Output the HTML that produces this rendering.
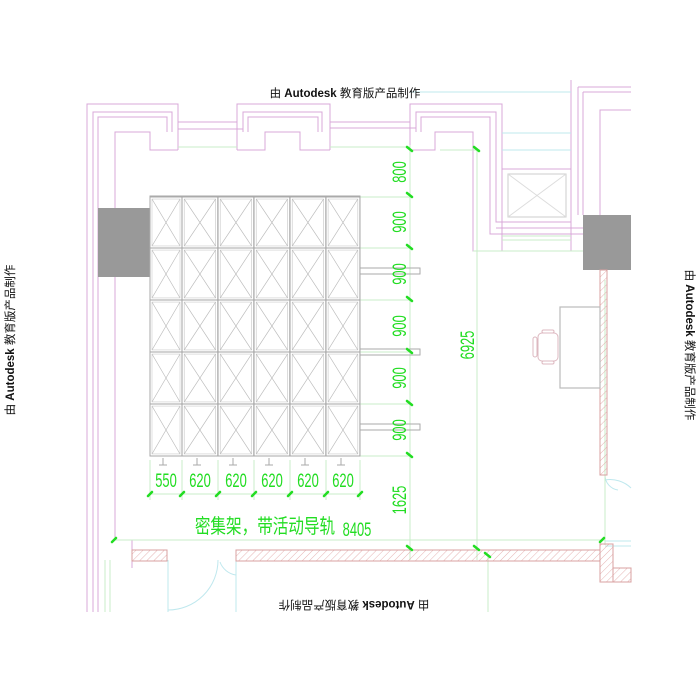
<!DOCTYPE html>
<html><head><meta charset="utf-8"><style>
html,body{margin:0;padding:0;background:#fff;}
svg{display:block;}
.t{font-family:"Liberation Sans","Noto Sans CJK SC",sans-serif;font-size:11.5px;fill:#111;}
.d{font-family:"Liberation Sans","Noto Sans CJK SC",sans-serif;font-size:19px;fill:#22dd22;}
</style></head><body>
<svg width="700" height="700" viewBox="0 0 700 700" xmlns="http://www.w3.org/2000/svg">
<defs>
<pattern id="h" width="5" height="5" patternUnits="userSpaceOnUse" patternTransform="rotate(45)">
<line x1="0" y1="0" x2="0" y2="5" stroke="#e0a0a0" stroke-width="0.8"/>
</pattern>
<g id="cell"><rect x="0" y="0" width="32" height="50" fill="none" stroke="#aaa" stroke-width="1"/>
<rect x="2" y="2" width="28" height="46" fill="none" stroke="#ccc" stroke-width="0.6"/>
<line x1="2" y1="2" x2="30" y2="48" stroke="#bbb" stroke-width="0.6"/><line x1="30" y1="2" x2="2" y2="48" stroke="#bbb" stroke-width="0.6"/></g>
</defs>
<rect width="700" height="700" fill="#fff"/>

<g fill="none" stroke="#d8a8d8" stroke-width="1">
<path d="M87 560 V104 H178 V150 M237 150 V104 H330 V150 M410 150 V104 H502 V251"/>
<path d="M93 560 V112 H172 V132 M243 132 V112 H322 V132 M416 132 V112 H496 V222 H571"/>
<path d="M98 560 V117 H167 V132 M248 132 V117 H318 V132 M421 132 V117 H490 V234 H583"/>
<path d="M115 540 V132 H150 V150 H178 M237 150 H265 V132 H300 V150 H330 M410 150 H435 V132 H473 V251 H583"/>
<path d="M178 122 H237 M178 129 H243 M330 122 H410 M330 128 H416"/>
<path d="M115 540 H132 V568 M87 560 V612 M93 560 V612 M98 560 V612"/>
<path d="M502 169 H571 M496 228 H583"/>
<path d="M571 80 V251 M578 87 V215 M583 92 V215 M578 87 H631 M583 92 H631 M600 215 V110 H631"/>
</g>
<g fill="none" stroke="#bfe8ee" stroke-width="1">
<path d="M410 92 H571 M502 133 H571 M502 150 H571"/>
<path d="M168 560 V612 M236 560 V612 M168 610 A50 50 0 0 0 218 560 M220 562 A20 20 0 0 0 236 575 V562"/>
<path d="M605 475 V545 M605 475 A15 15 0 0 0 618 490 M605 480 A30 30 0 0 1 631 488 M605 541 H631 M605 546 H631"/>
</g>
<g fill="none" stroke="#c8ecc8" stroke-width="1">
<path d="M178 147 H237 M330 147 H410 M440 150 H480 M502 236 H571 M502 240 H571 M473 251 H583"/>
<path d="M115 540 H605 M410 145 V560 M477 150 V560 M488 556 V612 M605 280 V545"/>
<path d="M360 197 H410 M360 248 H410 M360 300 H410 M360 352 H410 M360 404 H410 M360 456 H410"/>
<path d="M150 460 V500 M182 460 V500 M218 460 V500 M254 460 V500 M290 460 V500 M326 460 V500 M360 460 V500 M150 494 H360"/>
<path d="M105 560 V612 M110 560 V612"/>
</g>

<rect x="98" y="208" width="52" height="69" fill="#999"/>
<rect x="583" y="215" width="48" height="55" fill="#999"/>

<g stroke="#d8a0a0" stroke-width="1" fill="url(#h)">
<rect x="132" y="550" width="35" height="11"/>
<rect x="236" y="550" width="364" height="11"/>
<rect x="600" y="270" width="7" height="205"/>
<rect x="600" y="544" width="13" height="38"/>
<rect x="613" y="568" width="18" height="14"/>
</g>

<rect x="508" y="174" width="58" height="43" fill="none" stroke="#ccc"/>
<line x1="508" y1="174" x2="566" y2="217" stroke="#ddd"/><line x1="566" y1="174" x2="508" y2="217" stroke="#ddd"/>

<rect x="560" y="307" width="40" height="81" fill="none" stroke="#bbb" stroke-width="1.2"/>
<g fill="none" stroke="#ddb8c0" stroke-width="1">
<rect x="538" y="333" width="20" height="28" rx="4"/>
<rect x="533" y="337" width="4" height="20" rx="2"/>
<rect x="542" y="330" width="12" height="3" rx="1.5"/><rect x="542" y="361" width="12" height="3" rx="1.5"/>
</g>

<rect x="150" y="196" width="210" height="260" fill="none" stroke="#aaa"/>
<g>
<g transform="translate(150,197) scale(1,1.02)"><use href="#cell"/></g>
<g transform="translate(182,197) scale(1.12,1.02)"><use href="#cell"/></g>
<g transform="translate(218,197) scale(1.12,1.02)"><use href="#cell"/></g>
<g transform="translate(254,197) scale(1.12,1.02)"><use href="#cell"/></g>
<g transform="translate(290,197) scale(1.12,1.02)"><use href="#cell"/></g>
<g transform="translate(326,197) scale(1.06,1.02)"><use href="#cell"/></g>
<g transform="translate(150,248) scale(1,1.04)"><use href="#cell"/></g>
<g transform="translate(182,248) scale(1.12,1.04)"><use href="#cell"/></g>
<g transform="translate(218,248) scale(1.12,1.04)"><use href="#cell"/></g>
<g transform="translate(254,248) scale(1.12,1.04)"><use href="#cell"/></g>
<g transform="translate(290,248) scale(1.12,1.04)"><use href="#cell"/></g>
<g transform="translate(326,248) scale(1.06,1.04)"><use href="#cell"/></g>
<g transform="translate(150,300) scale(1,1.04)"><use href="#cell"/></g>
<g transform="translate(182,300) scale(1.12,1.04)"><use href="#cell"/></g>
<g transform="translate(218,300) scale(1.12,1.04)"><use href="#cell"/></g>
<g transform="translate(254,300) scale(1.12,1.04)"><use href="#cell"/></g>
<g transform="translate(290,300) scale(1.12,1.04)"><use href="#cell"/></g>
<g transform="translate(326,300) scale(1.06,1.04)"><use href="#cell"/></g>
<g transform="translate(150,352) scale(1,1.04)"><use href="#cell"/></g>
<g transform="translate(182,352) scale(1.12,1.04)"><use href="#cell"/></g>
<g transform="translate(218,352) scale(1.12,1.04)"><use href="#cell"/></g>
<g transform="translate(254,352) scale(1.12,1.04)"><use href="#cell"/></g>
<g transform="translate(290,352) scale(1.12,1.04)"><use href="#cell"/></g>
<g transform="translate(326,352) scale(1.06,1.04)"><use href="#cell"/></g>
<g transform="translate(150,404) scale(1,1.04)"><use href="#cell"/></g>
<g transform="translate(182,404) scale(1.12,1.04)"><use href="#cell"/></g>
<g transform="translate(218,404) scale(1.12,1.04)"><use href="#cell"/></g>
<g transform="translate(254,404) scale(1.12,1.04)"><use href="#cell"/></g>
<g transform="translate(290,404) scale(1.12,1.04)"><use href="#cell"/></g>
<g transform="translate(326,404) scale(1.06,1.04)"><use href="#cell"/></g>
</g>
<g fill="none" stroke="#aaa">
<rect x="360" y="268" width="60" height="6"/>
<rect x="360" y="349" width="60" height="6"/>
<rect x="360" y="424" width="60" height="6"/>
<path d="M163 458 V465 M159 465 H167 M197 458 V465 M193 465 H201 M233 458 V465 M229 465 H237 M269 458 V465 M265 465 H273 M305 458 V465 M301 465 H309 M341 458 V465 M337 465 H345"/>
</g>

<g stroke="#22dd22" stroke-width="2.5" stroke-linecap="round">
<path d="M407 147 l5 4 M407 193 l5 4 M407 245 l5 4 M407 297 l5 4 M407 349 l5 4 M407 401 l5 4 M407 453 l5 4 M407 546 l5 4"/>
<path d="M474 147 l5 4 M474 546 l5 4 M485 553 l5 4"/>
<path d="M112 542 l4 -4 M600 542 l4 -4"/>
<path d="M148 496 l4 -4 M180 496 l4 -4 M216 496 l4 -4 M252 496 l4 -4 M288 496 l4 -4 M324 496 l4 -4 M358 496 l4 -4"/>
</g>

<g class="d">
<text transform="translate(406,172) rotate(-90) scale(0.68,1)" text-anchor="middle">800</text>
<text transform="translate(406,222) rotate(-90) scale(0.68,1)" text-anchor="middle">900</text>
<text transform="translate(406,274) rotate(-90) scale(0.68,1)" text-anchor="middle">900</text>
<text transform="translate(406,326) rotate(-90) scale(0.68,1)" text-anchor="middle">900</text>
<text transform="translate(406,378) rotate(-90) scale(0.68,1)" text-anchor="middle">900</text>
<text transform="translate(406,430) rotate(-90) scale(0.68,1)" text-anchor="middle">900</text>
<text transform="translate(406,500) rotate(-90) scale(0.68,1)" text-anchor="middle">1625</text>
<text transform="translate(474,345) rotate(-90) scale(0.68,1)" text-anchor="middle">6925</text>
<text transform="translate(166,487) scale(0.68,1)" text-anchor="middle">550</text>
<text transform="translate(200,487) scale(0.68,1)" text-anchor="middle">620</text>
<text transform="translate(236,487) scale(0.68,1)" text-anchor="middle">620</text>
<text transform="translate(272,487) scale(0.68,1)" text-anchor="middle">620</text>
<text transform="translate(308,487) scale(0.68,1)" text-anchor="middle">620</text>
<text transform="translate(343,487) scale(0.68,1)" text-anchor="middle">620</text>
<text transform="translate(357,536) scale(0.68,1)" text-anchor="middle">8405</text>
<text transform="translate(265,533) scale(0.78,1)" text-anchor="middle" style="font-size:20px">密集架，带活动导轨</text>
</g>

<text class="t" x="345" y="97" text-anchor="middle">由 <tspan font-weight="bold">Autodesk</tspan> 教育版产品制作</text>
<text class="t" transform="translate(14,340) rotate(-90)" text-anchor="middle">由 <tspan font-weight="bold">Autodesk</tspan> 教育版产品制作</text>
<text class="t" transform="translate(686,345) rotate(90)" text-anchor="middle">由 <tspan font-weight="bold">Autodesk</tspan> 教育版产品制作</text>
<text class="t" transform="translate(354,601) rotate(180)" text-anchor="middle">由 <tspan font-weight="bold">Autodesk</tspan> 教育版产品制作</text>
</svg>
</body></html>
